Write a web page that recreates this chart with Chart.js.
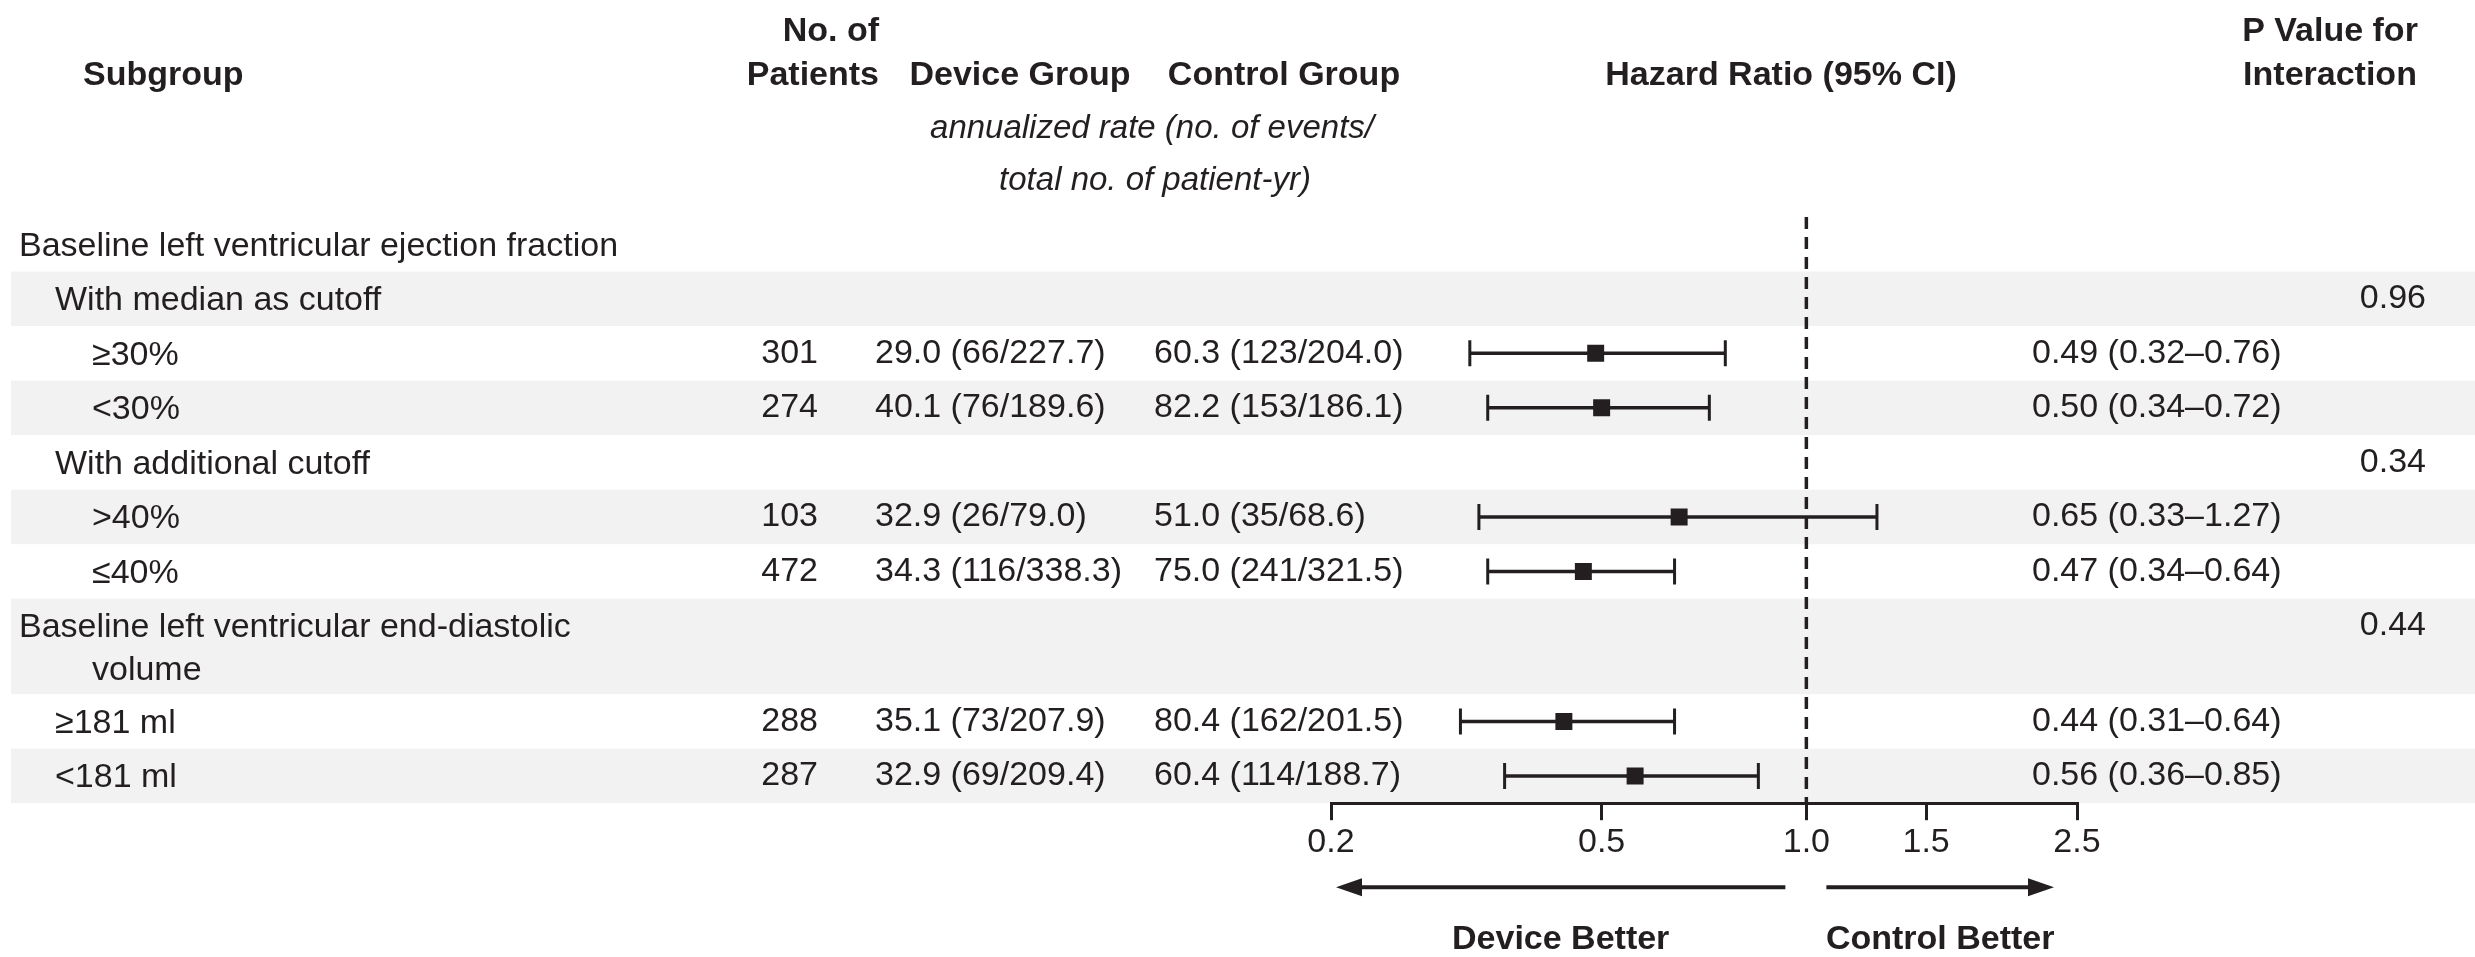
<!DOCTYPE html>
<html>
<head>
<meta charset="utf-8">
<script src="https://cdn.jsdelivr.net/npm/chart.js@4/dist/chart.umd.min.js"></script>
<style>
  html, body { margin: 0; padding: 0; background: #ffffff; }
  #wrap { width: 2475px; height: 957px; position: relative; }
</style>
</head>
<body>
<div id="wrap"><canvas id="forest"></canvas></div>
<script>
// ---- Subgroup rows -------------------------------------------------------
const subgroups = [
  'Baseline left ventricular ejection fraction',
  'With median as cutoff',
  '≥30%',
  '<30%',
  'With additional cutoff',
  '>40%',
  '≤40%',
  'Baseline left ventricular end-diastolic|volume',
  '≥181 ml',
  '<181 ml'
];
const indentLevel = [0, 1, 2, 2, 1, 2, 2, 0, 1, 1];
const rowUnits    = [1, 1, 1, 1, 1, 1, 1, 1.75, 1, 1];

// ---- Values per row (null where the row is a heading) --------------------
const patients            = [null, null, 301, 274, null, 103, 472, null, 288, 287];
const deviceRate          = [null, null, 29.0, 40.1, null, 32.9, 34.3, null, 35.1, 32.9];
const deviceEvents        = [null, null, 66, 76, null, 26, 116, null, 73, 69];
const devicePatientYears  = [null, null, 227.7, 189.6, null, 79.0, 338.3, null, 207.9, 209.4];
const controlRate         = [null, null, 60.3, 82.2, null, 51.0, 75.0, null, 80.4, 60.4];
const controlEvents       = [null, null, 123, 153, null, 35, 241, null, 162, 114];
const controlPatientYears = [null, null, 204.0, 186.1, null, 68.6, 321.5, null, 201.5, 188.7];
const hazardRatio         = [null, null, 0.49, 0.50, null, 0.65, 0.47, null, 0.44, 0.56];
const ciLower             = [null, null, 0.32, 0.34, null, 0.33, 0.34, null, 0.31, 0.36];
const ciUpper             = [null, null, 0.76, 0.72, null, 1.27, 0.64, null, 0.64, 0.85];
const pInteraction        = [null, 0.96, null, null, 0.34, null, null, 0.44, null, null];

// ---- Axis ----------------------------------------------------------------
const axisTicks = [0.2, 0.5, 1.0, 1.5, 2.5];

// ---- Layout helpers ------------------------------------------------------
const INK = '#231f20';
const BAND = '#f2f2f2';
const FAMILY = '"Liberation Sans", Arial, sans-serif';
const rowStart = [];
let acc = 0;
rowUnits.forEach(u => { rowStart.push(acc); acc += u; });
const totalUnits = acc;
const rowCenter = rowUnits.map((u, i) => rowStart[i] + (u > 1 ? 0.5 : u / 2));

// ---- Datasets ------------------------------------------------------------
const datasets = [];

// null-effect reference line at HR = 1
datasets.push({
  type: 'line',
  data: [{ x: 1, y: 0 }, { x: 1, y: totalUnits }],
  borderColor: INK,
  borderWidth: 3.5,
  borderDash: [12, 8],
  pointRadius: 0,
  fill: false
});

// confidence intervals with end caps
hazardRatio.forEach((hr, i) => {
  if (hr === null) return;
  datasets.push({
    type: 'line',
    data: [{ x: ciLower[i], y: rowCenter[i] }, { x: ciUpper[i], y: rowCenter[i] }],
    borderColor: INK,
    borderWidth: 3.5,
    pointStyle: 'line',
    pointRotation: 90,
    pointRadius: 13,
    pointBorderWidth: 3,
    pointBorderColor: INK,
    fill: false
  });
});

// point estimates
datasets.push({
  type: 'scatter',
  data: hazardRatio.map((hr, i) => hr === null ? null : { x: hr, y: rowCenter[i] }).filter(p => p),
  pointStyle: 'rect',
  pointRadius: 12,
  backgroundColor: INK,
  borderWidth: 0
});

// ---- Table, bands and annotations ----------------------------------------
function fmtRate(rate, ev, py) {
  return rate.toFixed(1) + ' (' + ev + '/' + py.toFixed(1) + ')';
}
function fmtHR(hr, lo, hi) {
  return hr.toFixed(2) + ' (' + lo.toFixed(2) + '\u2013' + hi.toFixed(2) + ')';
}

const tablePlugin = {
  id: 'forestTable',
  beforeDraw(chart) {
    const ctx = chart.ctx;
    const ys = chart.scales.y;
    ctx.save();
    ctx.fillStyle = BAND;
    subgroups.forEach((s, i) => {
      if (i % 2 === 1) {
        const top = ys.getPixelForValue(rowStart[i]);
        const bot = ys.getPixelForValue(rowStart[i] + rowUnits[i]);
        ctx.fillRect(11, top, chart.width - 11, bot - top);
      }
    });
    ctx.restore();
  },
  afterDraw(chart) {
    const ctx = chart.ctx;
    const ys = chart.scales.y;
    const xs = chart.scales.x;
    ctx.save();
    ctx.fillStyle = INK;
    ctx.textBaseline = 'middle';

    // column headings
    ctx.font = 'bold 34px ' + FAMILY;
    ctx.textAlign = 'left';
    ctx.fillText('Subgroup', 83, 76);
    ctx.textAlign = 'right';
    ctx.fillText('No. of', 879, 32);
    ctx.fillText('Patients', 879, 76);
    ctx.textAlign = 'center';
    ctx.fillText('Device Group', 1020, 76);
    ctx.fillText('Control Group', 1284, 76);
    ctx.fillText('Hazard Ratio (95% CI)', 1781, 76);
    ctx.fillText('P Value for', 2330, 32);
    ctx.fillText('Interaction', 2330, 76);
    ctx.font = 'italic 33px ' + FAMILY;
    ctx.fillText('annualized rate (no. of events/', 1152, 129);
    ctx.fillText('total no. of patient-yr)', 1155, 181);

    // body rows
    const indentX = [19, 55, 92];
    ctx.font = '34px ' + FAMILY;
    subgroups.forEach((label, i) => {
      const yc = ys.getPixelForValue(rowCenter[i]);
      const lines = label.split('|');
      ctx.textAlign = 'left';
      lines.forEach((ln, k) => {
        const x = k === 0 ? indentX[indentLevel[i]] : 92;
        ctx.fillText(ln, x, ys.getPixelForValue(rowStart[i] + 0.5 + k * 0.78) + 2);
      });
      if (patients[i] !== null) {
        ctx.textAlign = 'right';
        ctx.fillText(String(patients[i]), 818, yc);
        ctx.textAlign = 'left';
        ctx.fillText(fmtRate(deviceRate[i], deviceEvents[i], devicePatientYears[i]), 875, yc);
        ctx.fillText(fmtRate(controlRate[i], controlEvents[i], controlPatientYears[i]), 1154, yc);
        ctx.fillText(fmtHR(hazardRatio[i], ciLower[i], ciUpper[i]), 2032, yc);
      }
      if (pInteraction[i] !== null) {
        ctx.textAlign = 'right';
        ctx.fillText(pInteraction[i].toFixed(2), 2426, ys.getPixelForValue(rowStart[i] + 0.5));
      }
    });

    // direction arrows under the axis
    const xLo = xs.getPixelForValue(axisTicks[0]);
    const xOne = xs.getPixelForValue(1);
    const xHi = xs.getPixelForValue(axisTicks[axisTicks.length - 1]);
    const ay = chart.chartArea.bottom + 84;
    ctx.strokeStyle = INK;
    ctx.lineWidth = 4;
    const head = 26, half = 9;
    // left arrow
    ctx.beginPath();
    ctx.moveTo(xOne - 21, ay);
    ctx.lineTo(xLo + 5 + head - 4, ay);
    ctx.stroke();
    ctx.beginPath();
    ctx.moveTo(xLo + 5, ay);
    ctx.lineTo(xLo + 5 + head, ay - half);
    ctx.lineTo(xLo + 5 + head, ay + half);
    ctx.closePath();
    ctx.fill();
    // right arrow
    ctx.beginPath();
    ctx.moveTo(xOne + 20, ay);
    ctx.lineTo(xHi - 23 - head + 4, ay);
    ctx.stroke();
    ctx.beginPath();
    ctx.moveTo(xHi - 23, ay);
    ctx.lineTo(xHi - 23 - head, ay - half);
    ctx.lineTo(xHi - 23 - head, ay + half);
    ctx.closePath();
    ctx.fill();

    ctx.font = 'bold 34px ' + FAMILY;
    ctx.textAlign = 'center';
    ctx.fillText('Device Better', (xLo + 5 + xOne - 21) / 2, ay + 52);
    ctx.fillText('Control Better', (xOne + 20 + xHi - 23) / 2, ay + 52);
    ctx.restore();
  }
};

new Chart(document.getElementById('forest'), {
  type: 'scatter',
  data: { datasets },
  options: {
    responsive: true,
    maintainAspectRatio: false,
    animation: false,
    events: [],
    layout: { padding: { left: 1331, right: 398, top: 217, bottom: 92 } },
    plugins: { legend: { display: false }, tooltip: { enabled: false } },
    scales: {
      x: {
        type: 'logarithmic',
        min: axisTicks[0],
        max: axisTicks[axisTicks.length - 1],
        afterBuildTicks: s => { s.ticks = axisTicks.map(v => ({ value: v })); },
        ticks: {
          callback: v => Number(v).toFixed(1),
          font: { family: FAMILY, size: 34 },
          color: INK,
          padding: 2,
          autoSkip: false,
          maxRotation: 0
        },
        grid: { drawOnChartArea: false, drawTicks: true, tickLength: 17, lineWidth: 3, color: INK },
        border: { display: true, width: 3, color: INK }
      },
      y: { type: 'linear', display: false, min: 0, max: totalUnits, reverse: true }
    }
  },
  plugins: [tablePlugin]
});
</script>
</body>
</html>
